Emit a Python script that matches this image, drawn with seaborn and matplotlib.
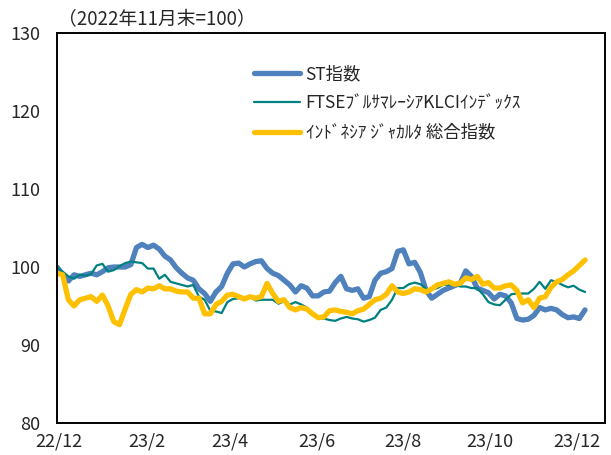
import pandas as pd
import matplotlib.pyplot as plt
import seaborn as sns

# 日付（4日おき、2022/11/30起点）
dates = pd.date_range("2022-11-30", periods=94, freq="4D")

st_index = [100.0, 99.0, 98.2, 99.0, 98.8, 99.0, 99.2, 99.0, 99.4, 99.9,
            100.0, 100.0, 100.0, 100.3, 102.5, 102.9, 102.5, 102.8, 102.3, 101.4,
            100.9, 99.9, 99.2, 98.6, 98.3, 97.2, 96.6, 95.6, 96.8, 97.5,
            99.2, 100.4, 100.5, 100.0, 100.4, 100.7, 100.8, 99.8, 99.2, 98.9,
            98.3, 97.7, 96.8, 97.6, 97.3, 96.3, 96.3, 96.8, 96.9, 98.0,
            98.8, 97.2, 97.0, 97.2, 96.0, 96.2, 98.3, 99.2, 99.4, 99.8,
            102.0, 102.2, 100.4, 100.6, 99.3, 97.0, 96.0, 96.5, 97.0, 97.3,
            97.6, 97.9, 99.5, 98.8, 97.3, 97.0, 96.7, 95.9, 96.5, 96.3,
            95.4, 93.4, 93.2, 93.3, 93.8, 94.8, 94.5, 94.7, 94.5, 93.9,
            93.5, 93.6, 93.4, 94.5]

klci = [100.0, 99.4, 98.8, 98.5, 99.0, 98.9, 99.1, 100.2, 100.4, 99.4,
        99.6, 100.1, 100.5, 100.7, 100.6, 100.5, 99.8, 99.8, 98.5, 99.0,
        98.1, 97.9, 97.7, 97.5, 97.7, 96.2, 95.8, 94.4, 94.3, 94.1,
        95.5, 95.9, 96.0, 95.8, 96.2, 95.7, 95.8, 95.8, 95.8, 95.3,
        95.6, 95.2, 95.5, 95.2, 94.8, 94.0, 93.4, 93.4, 93.2, 93.1,
        93.4, 93.6, 93.4, 93.3, 93.0, 93.2, 93.5, 94.5, 94.8, 95.8,
        97.3, 97.3, 97.8, 98.0, 97.8, 97.2, 97.1, 97.3, 97.7, 97.7,
        97.9, 97.5, 97.5, 97.3, 97.3, 96.5, 95.5, 95.2, 95.1, 95.8,
        96.5, 96.6, 96.6, 96.6, 97.2, 98.1, 97.2, 98.3, 98.1, 97.7,
        97.4, 97.6, 97.1, 96.8]

jakarta = [99.2, 99.0, 95.8, 95.0, 95.8, 96.0, 96.2, 95.6, 96.4, 95.0,
           93.0, 92.6, 94.6, 96.5, 97.1, 96.8, 97.3, 97.2, 97.6, 97.2,
           97.2, 96.9, 96.8, 96.8, 96.0, 96.0, 94.0, 94.0, 95.2, 95.6,
           96.4, 96.5, 96.2, 95.9, 96.2, 96.0, 96.2, 97.9, 96.6, 95.6,
           95.8, 94.8, 94.5, 94.8, 94.6, 94.0, 93.5, 93.6, 94.4, 94.5,
           94.3, 94.2, 94.0, 94.4, 94.6, 95.2, 95.8, 96.0, 96.5, 97.6,
           96.8, 96.6, 96.8, 97.2, 97.1, 96.8, 97.2, 97.7, 97.9, 98.1,
           97.8, 97.9, 98.6, 98.4, 98.8, 97.8, 98.0, 97.3, 97.3, 97.6,
           97.7, 97.0, 95.4, 95.8, 94.8, 96.0, 96.2, 97.4, 98.1, 98.4,
           99.0, 99.5, 100.2, 100.9]

labels = ["ST指数", "FTSEﾌﾞﾙｻﾏﾚｰｼｱKLCIｲﾝﾃﾞｯｸｽ", "ｲﾝﾄﾞﾈｼｱ ｼﾞｬｶﾙﾀ 総合指数"]
colors = ["#4F81BD", "#008080", "#FFC000"]
widths = [3.8, 1.6, 3.8]

df = pd.DataFrame({"date": dates, labels[0]: st_index, labels[1]: klci, labels[2]: jakarta})

sns.set_style("white")
plt.rcParams['font.family'] = ['Noto Sans CJK JP', 'DejaVu Sans']

fig = plt.figure(figsize=(6.11, 4.55), dpi=100)
ax = fig.add_axes([0.0933, 0.0703, 0.8967, 0.8572])

for lab, c, w in zip(labels, colors, widths):
    sns.lineplot(data=df, x="date", y=lab, color=c, linewidth=w, label=lab, ax=ax)

ax.set_ylim(80, 130)
ax.set_yticks([80, 90, 100, 110, 120, 130])
ax.set_xlim(pd.Timestamp("2022-11-30"), pd.Timestamp("2023-12-21"))
ticks = pd.date_range("2022-12-01", "2023-12-01", freq="2MS")
ax.set_xticks(ticks)
ax.set_xticklabels([d.strftime("%y/%-m") for d in ticks])
ax.set_xlabel("")
ax.set_ylabel("")

for s in ax.spines.values():
    s.set_color("black")
    s.set_linewidth(1.4)

ax.tick_params(axis="y", length=0, pad=12, labelsize=13)
ax.tick_params(axis="x", direction="in", length=5, width=0.8, color="black", pad=7, labelsize=13)

fig.text(0.095, 0.957, "（2022年11月末=100）", fontsize=13.5, va="center")

ax.legend(loc="upper left", bbox_to_anchor=(0.343, 0.94), frameon=False,
          fontsize=12.5, handlelength=2.7, handletextpad=0.3, labelspacing=0.65,
          borderpad=0)

fig.savefig("out.png", dpi=100)
